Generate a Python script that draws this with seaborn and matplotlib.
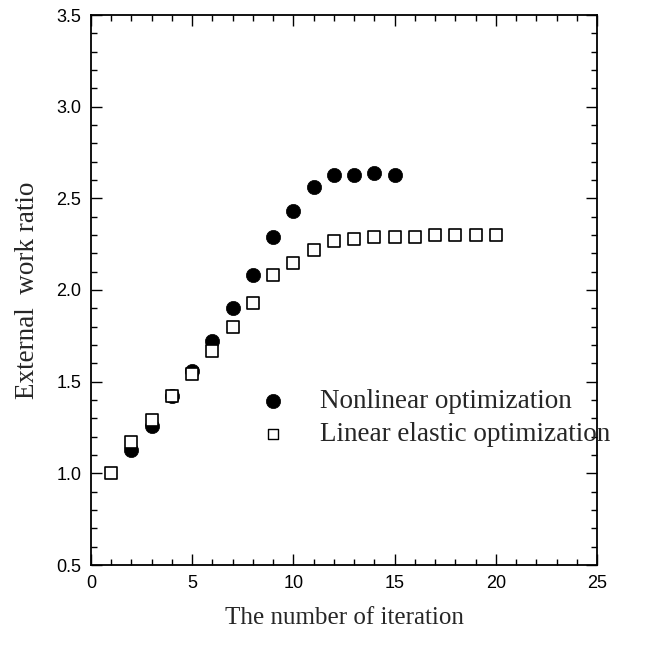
import matplotlib
matplotlib.use("Agg")
import matplotlib.pyplot as plt
from matplotlib.ticker import MultipleLocator
import seaborn as sns
import pandas as pd

# Data
nonlinear_x = [2, 3, 4, 5, 6, 7, 8, 9, 10, 11, 12, 13, 14, 15]
nonlinear_y = [1.13, 1.26, 1.42, 1.56, 1.72, 1.90, 2.08, 2.29, 2.43, 2.56, 2.63, 2.63, 2.64, 2.63]
linear_x = [1, 2, 3, 4, 5, 6, 7, 8, 9, 10, 11, 12, 13, 14, 15, 16, 17, 18, 19, 20]
linear_y = [1.00, 1.17, 1.29, 1.42, 1.54, 1.67, 1.80, 1.93, 2.08, 2.15, 2.22, 2.27, 2.28, 2.29, 2.29, 2.29, 2.30, 2.30, 2.30, 2.30]
series_labels = ["Nonlinear optimization", "Linear elastic optimization"]
x_ticks = [0, 5, 10, 15, 20, 25]
y_ticks = [0.5, 1.0, 1.5, 2.0, 2.5, 3.0, 3.5]

sns.set_style("ticks")
plt.rcParams['font.family'] = ['Liberation Sans', 'DejaVu Sans']

df_nl = pd.DataFrame({"x": nonlinear_x, "y": nonlinear_y})
df_le = pd.DataFrame({"x": linear_x, "y": linear_y})

fig = plt.figure(figsize=(6.59, 6.48), dpi=100)
ax = fig.add_axes([91/659, 1 - 565/648, (597-91)/659, (565-15)/648])

sns.scatterplot(data=df_nl, x="x", y="y", ax=ax, marker="o", s=105,
                color="black", edgecolor="black", linewidth=0.5,
                label=series_labels[0], zorder=3)
sns.scatterplot(data=df_le, x="x", y="y", ax=ax, marker="s", s=85,
                facecolor="white", edgecolor="black", linewidth=1.2,
                label=series_labels[1], zorder=4)

ax.set_xlim(0, 25)
ax.set_ylim(0.5, 3.5)
ax.set_xticks(x_ticks)
ax.set_yticks(y_ticks)
ax.set_xticklabels([str(t) for t in x_ticks])
ax.set_yticklabels([f"{t:.1f}" for t in y_ticks])
ax.xaxis.set_minor_locator(MultipleLocator(1))
ax.yaxis.set_minor_locator(MultipleLocator(0.1))
ax.tick_params(which="both", direction="in", top=True, right=True,
               labelsize=13, colors="black", width=1)
ax.tick_params(which="major", length=8, pad=7)
ax.tick_params(which="minor", length=4)
for sp in ax.spines.values():
    sp.set_linewidth(1.3)
    sp.set_color("black")

serif = ['Liberation Serif', 'DejaVu Serif']
ax.set_xlabel("The number of iteration", fontsize=18, family=serif, labelpad=11)
ax.set_ylabel("External  work ratio", fontsize=19.5, family=serif, labelpad=12)

leg = ax.legend(loc="upper left", bbox_to_anchor=(0.284, 0.34), frameon=False,
                prop={'family': serif, 'size': 19.5}, handletextpad=0.75,
                labelspacing=0.3, borderaxespad=0)
leg.legend_handles[1].set_sizes([55])
leg.legend_handles[1].set_linewidth(1.0)

fig.savefig("out.png", dpi=100)
